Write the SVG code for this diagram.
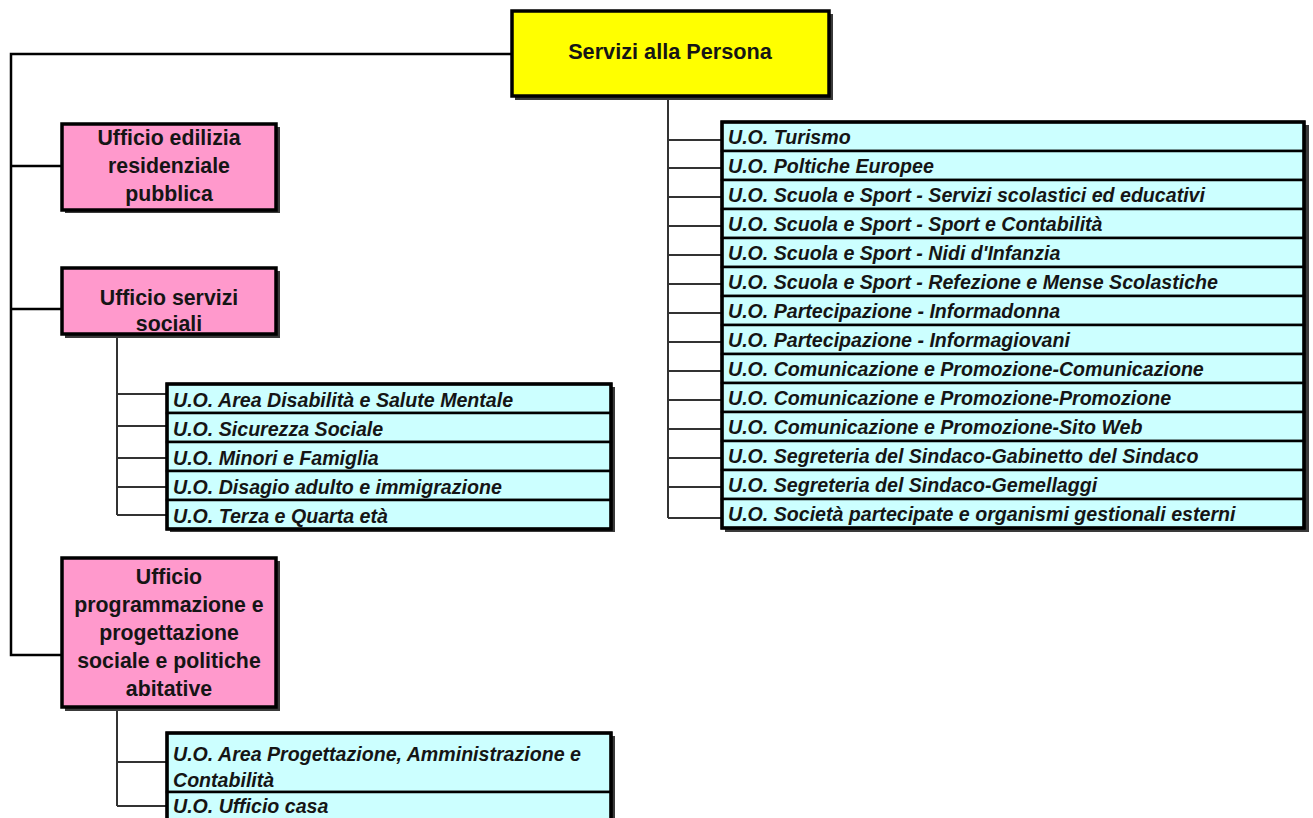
<svg xmlns="http://www.w3.org/2000/svg" width="1313" height="818" viewBox="0 0 1313 818">
<style>
.bg{fill:#ffffff}
.title{fill:#ffff00;stroke:#000;stroke-width:3.5}
.pink{fill:#ff99cc;stroke:#000;stroke-width:3.5}
.row{fill:#ccffff;stroke:#000;stroke-width:2.5}
.frame{fill:none;stroke:#000;stroke-width:3.5}
.shadow{fill:#3a3a3a}
.t1{font-family:"Liberation Sans",Arial,sans-serif;font-weight:bold;font-size:21.7px;fill:#151515;text-anchor:middle}
.tp{font-family:"Liberation Sans",Arial,sans-serif;font-weight:bold;font-size:21.3px;fill:#151515;text-anchor:middle}
.tu{font-family:"Liberation Sans",Arial,sans-serif;font-weight:bold;font-style:italic;font-size:19.6px;fill:#151515}
.c1{stroke:#000;stroke-width:2.5;fill:none}
.c2{stroke:#333;stroke-width:2;fill:none}
</style>
<rect class="bg" x="0" y="0" width="1313" height="818"/>

<g id="connectors">
  <path class="c1" d="M512 54 H11 V655 H62 M11 166 H62 M11 309 H62"/>
  <path class="c2" d="M668 97 V518 M668 140 H722 M668 168 H722 M668 197 H722 M668 226 H722 M668 255 H722 M668 284 H722 M668 313 H722 M668 342 H722 M668 371 H722 M668 400 H722 M668 429 H722 M668 458 H722 M668 487 H722 M668 518 H722"/>
  <path class="c2" d="M117 336 V515 M117 394 H167 M117 426 H167 M117 458 H167 M117 487 H167 M117 515 H167"/>
  <path class="c2" d="M117 707 V806 M117 762 H167 M117 806 H167"/>
</g>

<g id="n-servizi">
  <rect class="shadow" x="515" y="14" width="318" height="86"/>
  <rect class="title" x="512" y="11" width="317" height="85"/>
  <text class="t1" x="670" y="59">Servizi alla Persona</text>
</g>

<g id="n-edilizia">
  <rect class="shadow" x="65" y="127" width="215" height="86"/>
  <rect class="pink" x="62" y="124" width="214" height="86"/>
  <text class="tp" x="169" y="145">Ufficio edilizia</text>
  <text class="tp" x="169" y="173">residenziale</text>
  <text class="tp" x="169" y="201">pubblica</text>
</g>

<g id="n-sociali">
  <rect class="shadow" x="65" y="271" width="215" height="67"/>
  <rect class="pink" x="62" y="268" width="214" height="66"/>
  <text class="tp" x="169" y="305">Ufficio servizi</text>
  <text class="tp" x="169" y="331">sociali</text>
</g>

<g id="n-programmazione">
  <rect class="shadow" x="65" y="561" width="215" height="150"/>
  <rect class="pink" x="62" y="558" width="214" height="149"/>
  <text class="tp" x="169" y="584">Ufficio</text>
  <text class="tp" x="169" y="612">programmazione e</text>
  <text class="tp" x="169" y="640">progettazione</text>
  <text class="tp" x="169" y="668">sociale e politiche</text>
  <text class="tp" x="169" y="696">abitative</text>
</g>

<g id="n-uo-servizi">
  <rect class="shadow" x="725" y="125" width="584" height="407"/>
  <rect class="row" x="722" y="122" width="582" height="29"/>
  <rect class="row" x="722" y="151" width="582" height="29"/>
  <rect class="row" x="722" y="180" width="582" height="29"/>
  <rect class="row" x="722" y="209" width="582" height="29"/>
  <rect class="row" x="722" y="238" width="582" height="29"/>
  <rect class="row" x="722" y="267" width="582" height="29"/>
  <rect class="row" x="722" y="296" width="582" height="29"/>
  <rect class="row" x="722" y="325" width="582" height="29"/>
  <rect class="row" x="722" y="354" width="582" height="29"/>
  <rect class="row" x="722" y="383" width="582" height="29"/>
  <rect class="row" x="722" y="412" width="582" height="29"/>
  <rect class="row" x="722" y="441" width="582" height="29"/>
  <rect class="row" x="722" y="470" width="582" height="29"/>
  <rect class="row" x="722" y="499" width="582" height="29"/>
  <rect class="frame" x="722" y="122" width="582" height="406"/>
  <text class="tu" x="728" y="144">U.O. Turismo</text>
  <text class="tu" x="728" y="173">U.O. Poltiche Europee</text>
  <text class="tu" x="728" y="202">U.O. Scuola e Sport - Servizi scolastici ed educativi</text>
  <text class="tu" x="728" y="231">U.O. Scuola e Sport - Sport e Contabilità</text>
  <text class="tu" x="728" y="260">U.O. Scuola e Sport - Nidi d'Infanzia</text>
  <text class="tu" x="728" y="289">U.O. Scuola e Sport - Refezione e Mense Scolastiche</text>
  <text class="tu" x="728" y="318">U.O. Partecipazione - Informadonna</text>
  <text class="tu" x="728" y="347">U.O. Partecipazione - Informagiovani</text>
  <text class="tu" x="728" y="376">U.O. Comunicazione e Promozione-Comunicazione</text>
  <text class="tu" x="728" y="405">U.O. Comunicazione e Promozione-Promozione</text>
  <text class="tu" x="728" y="434">U.O. Comunicazione e Promozione-Sito Web</text>
  <text class="tu" x="728" y="463">U.O. Segreteria del Sindaco-Gabinetto del Sindaco</text>
  <text class="tu" x="728" y="492">U.O. Segreteria del Sindaco-Gemellaggi</text>
  <text class="tu" x="728" y="521">U.O. Società partecipate e organismi gestionali esterni</text>
</g>

<g id="n-uo-sociali">
  <rect class="shadow" x="170" y="387" width="445" height="145"/>
  <rect class="row" x="167" y="384" width="444" height="29"/>
  <rect class="row" x="167" y="413" width="444" height="29"/>
  <rect class="row" x="167" y="442" width="444" height="29"/>
  <rect class="row" x="167" y="471" width="444" height="29"/>
  <rect class="row" x="167" y="500" width="444" height="29"/>
  <rect class="frame" x="167" y="384" width="444" height="145"/>
  <text class="tu" x="173" y="407">U.O. Area Disabilità e Salute Mentale</text>
  <text class="tu" x="173" y="436">U.O. Sicurezza Sociale</text>
  <text class="tu" x="173" y="465">U.O. Minori e Famiglia</text>
  <text class="tu" x="173" y="494">U.O. Disagio adulto e immigrazione</text>
  <text class="tu" x="173" y="523">U.O. Terza e Quarta età</text>
</g>

<g id="n-uo-programmazione">
  <rect class="shadow" x="170" y="736" width="445" height="100"/>
  <rect class="row" x="167" y="733" width="444" height="59"/>
  <rect class="row" x="167" y="792" width="444" height="40"/>
  <rect class="frame" x="167" y="733" width="444" height="99"/>
  <text class="tu" x="173" y="761">U.O. Area Progettazione, Amministrazione e</text>
  <text class="tu" x="173" y="787">Contabilità</text>
  <text class="tu" x="173" y="813">U.O. Ufficio casa</text>
</g>
</svg>
